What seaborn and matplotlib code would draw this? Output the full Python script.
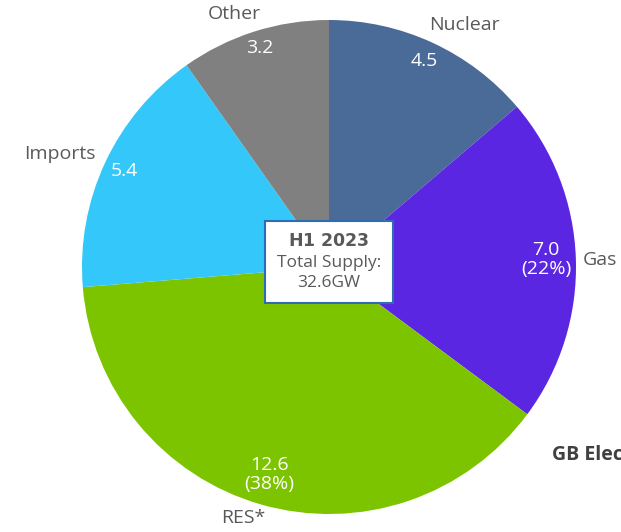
import matplotlib
matplotlib.use("Agg")
import matplotlib.pyplot as plt
import seaborn as sns
import numpy as np

# data
sources = ["Nuclear", "Gas", "RES*", "Imports", "Other"]
supply_gw = [4.5, 7.0, 12.6, 5.4, 3.2]
value_labels = ["4.5", "7.0\n(22%)", "12.6\n(38%)", "5.4", "3.2"]
colours = ["#4A6A98", "#5A26E2", "#7DC400", "#33C8F9", "#808080"]

# label placement: radius (fraction of pie radius) and angle nudge in degrees
name_dist = [1.124, 1.097, 1.075, 1.18, 1.094]
name_nudge = [-4.5, -0.4, -2.8, 2.3, 3.0]
value_dist = [0.92, 0.88, 0.875, 0.915, 0.93]

sns.set_theme(style="white")
plt.rcParams["font.family"] = ["Open Sans", "DejaVu Sans"]

fig = plt.figure(figsize=(6.21, 5.32), dpi=100)
ax = fig.add_axes([82 / 621, 18 / 532, 494 / 621, 494 / 532])

wedges, _ = ax.pie(supply_gw, colors=colours, startangle=90, counterclock=False,
                   wedgeprops={"linewidth": 0})

for w, name, lab, nd, nn, vd in zip(wedges, sources, value_labels, name_dist, name_nudge, value_dist):
    mid = (w.theta1 + w.theta2) / 2
    a = np.deg2rad(mid + nn)
    ax.text(nd * np.cos(a), nd * np.sin(a), name, ha="center", va="center",
            color="#595959", fontsize=14)
    a = np.deg2rad(mid)
    ax.text(vd * np.cos(a), vd * np.sin(a), lab, ha="center", va="center",
            color="white", fontsize=14, linespacing=1.1)

ax.set_xlim(-1, 1)
ax.set_ylim(-1, 1)
ax.axis("off")

# centre box
ax.text(0, 0.02, "$\\bf{H1\\ 2023}$\nTotal Supply:\n32.6GW", ha="center", va="center",
        fontsize=12.5, color="#595959", linespacing=1.35,
        bbox=dict(boxstyle="square,pad=0.7", facecolor="white", edgecolor="#2E6DB4", linewidth=1.5))

fig.text(552 / 621, 1 - 455 / 532, "GB Electricity Supply", ha="left", va="center",
         fontsize=14, fontweight="bold", color="#404040")

fig.savefig("out.png", dpi=100)
